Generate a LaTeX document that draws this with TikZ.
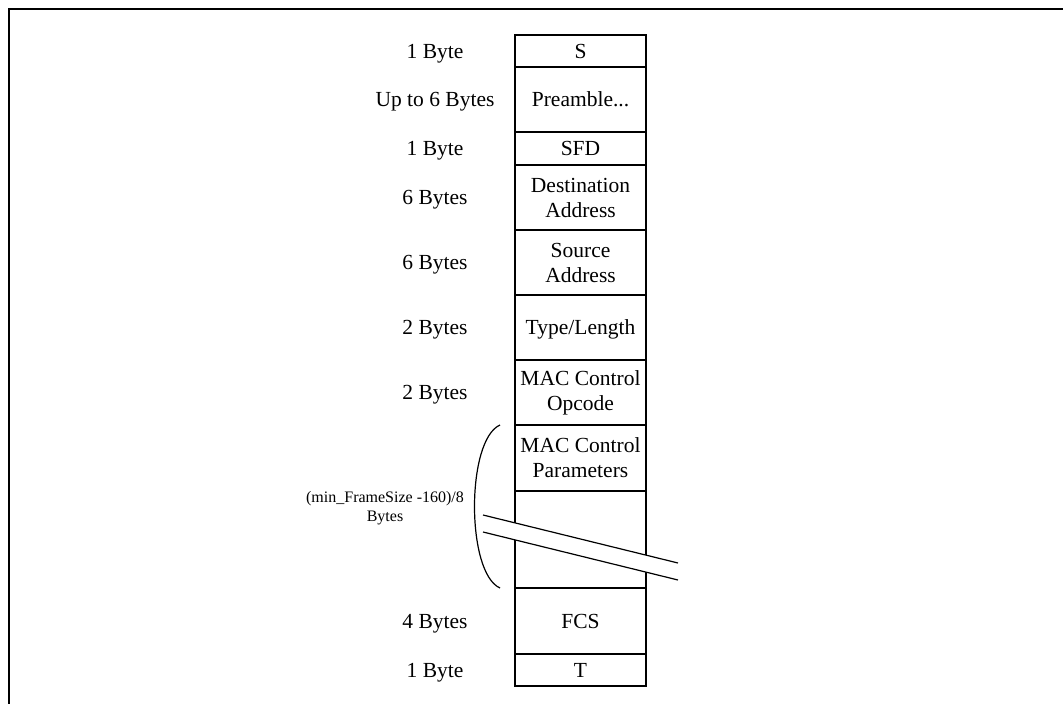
\documentclass[tikz,border=0pt]{standalone}
\usepackage{fontspec}
\setmainfont{Liberation Serif}
\begin{document}
\begin{tikzpicture}[x=1pt,y=-1pt,
  cell/.style={draw, line width=1.2pt, minimum width=131pt, inner sep=0pt, outer sep=0pt,
    align=center, font=\fontsize{21.5}{25}\selectfont, anchor=north west},
  one/.style={text height=14.2pt, text depth=0pt},
  lbl/.style={font=\fontsize{21.5}{25}\selectfont, align=center, inner sep=0pt,
    text height=14.2pt, text depth=0pt},
  small/.style={font=\fontsize{16}{19}\selectfont, align=center, inner sep=0pt},
  thin/.style={line width=1.2pt}]
\useasboundingbox (0,0) rectangle (1063,704);
\draw[line width=2pt] (9,705) -- (9,9) -- (1064,9);
% frame cells
\node[cell, one, minimum height=32pt] (s) at (515,35) {S};
\node[cell, one, minimum height=65pt] (pre) at (s.south west) {Preamble...};
\node[cell, one, minimum height=33pt] (sfd) at (pre.south west) {SFD};
\node[cell, minimum height=65pt] (dst) at (sfd.south west) {Destination\\Address};
\node[cell, minimum height=65pt] (src) at (dst.south west) {Source\\Address};
\node[cell, one, minimum height=65pt] (typ) at (src.south west) {Type/Length};
\node[cell, minimum height=65pt] (opc) at (typ.south west) {MAC Control\\Opcode};
\node[cell, minimum height=66pt] (par) at (opc.south west) {MAC Control\\Parameters};
\node[cell, minimum height=97pt] (pad) at (par.south west) {};
\node[cell, one, minimum height=66pt] (fcs) at (pad.south west) {FCS};
\node[cell, one, minimum height=32pt] (t) at (fcs.south west) {T};
% size labels
\coordinate (lx) at (435,0);
\node[lbl] (ls) at (lx |- s) {1 Byte};
\node[lbl] (lpre) at (lx |- pre) {Up to 6 Bytes};
\node[lbl] (lsfd) at (lx |- sfd) {1 Byte};
\node[lbl] (ldst) at (lx |- dst) {6 Bytes};
\node[lbl] (lsrc) at (lx |- src) {6 Bytes};
\node[lbl] (ltyp) at (lx |- typ) {2 Bytes};
\node[lbl] (lopc) at (lx |- opc) {2 Bytes};
\node[lbl] (lfcs) at (lx |- fcs) {4 Bytes};
\node[lbl] (lt) at (lx |- t) {1 Byte};
\node[small] (lpar) at (385,508) {(min\_FrameSize -160)/8\\Bytes};
% bracket
\coordinate (bt) at ([xshift=-15pt]par.north west);
\coordinate (bb) at ([xshift=-15pt]pad.south west);
\draw[thin] (bt) .. controls +(-34,15) and +(-34,-15) .. (bb);
% break marks
\coordinate (b1s) at (483,515);
\coordinate (b1e) at (678,563);
\coordinate (b2s) at (483,532);
\coordinate (b2e) at (678,580);
\fill[white] (b1s) -- (b1e) -- (b2e) -- (b2s) -- cycle;
\draw[thin] (b1s) -- (b1e);
\draw[thin] (b2s) -- (b2e);
\end{tikzpicture}
\end{document}
